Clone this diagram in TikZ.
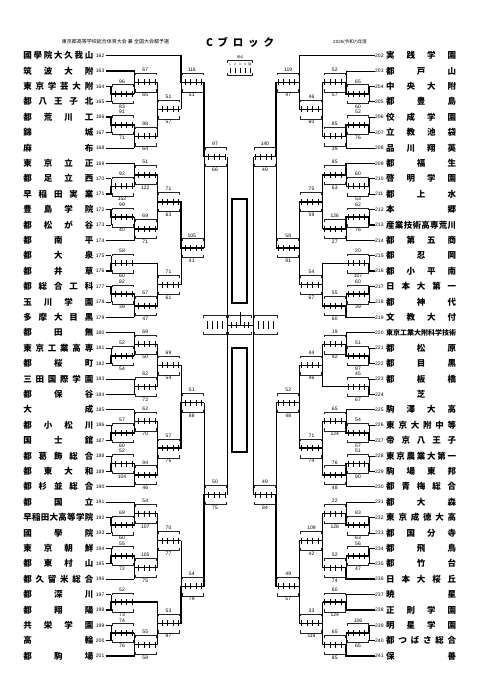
\documentclass[tikz,border=0pt]{standalone}
\usepackage{fontspec}
\setmainfont{Liberation Sans}
\newfontfamily\jp{Noto Sans CJK JP}
\newcommand{\spreadbox}[2]{\makebox[#1][s]{\spaceskip 0pt plus 1fil\relax #2}}

\begin{document}
\begin{tikzpicture}[
    x=1pt, y=-1pt,
    line/.style={draw=black, line width=0.5pt},
    winline/.style={draw=black, line width=1.5pt},
    bracketline/.style={draw=black!85, line width=0.4pt},
    tick/.style={draw=black, line width=0.9pt},
    frame/.style={draw=black, line width=1.2pt},
    teamname/.style={inner sep=0pt, font={\jp\bfseries\fontsize{8.5}{9}\selectfont}},
    teamno/.style={inner sep=0pt, font={\fontsize{5}{6}\selectfont}},
    score/.style={inner sep=0pt, font={\fontsize{5}{6}\selectfont}},
    head/.style={inner sep=0pt, font={\jp\fontsize{5}{6}\selectfont}},
    tiny/.style={inner sep=0pt, font={\jp\fontsize{3.2}{4}\selectfont}}
]

    % Page
    \fill[white] (0,0) rectangle (481,680);
    \useasboundingbox (0,0) rectangle (481,680);

    % Header
    \node[head] (meet) at (115.5,42) {東京都高等学校総合体育大会 兼 全国大会都予選};
    \node[inner sep=0pt, font={\jp\bfseries\fontsize{10.5}{11}\selectfont}] (block) at (240,42) {\spreadbox{68pt}{C ブ ロ ッ ク}};
    \node[head, font={\fontsize{4.5}{5}\selectfont}] (year) at (350,42) {2025({\jp 令和}7){\jp 年度}};

    % Legend
    \node[tiny] (lgtitle) at (240,57.5) {得点};
    \draw[bracketline] (227.5,63) -- (227.5,60.5) -- (252.5,60.5) -- (252.5,63);
    \foreach \t [count=\j] in {1,2,3,4,延}
        \node[tiny] (lg\j) at (225+5*\j,64.5) {\t};
    \foreach \j in {1,...,5}
        \draw[line] (225+5*\j,67.5) -- (225+5*\j,73);
    \draw[bracketline] (227.5,73) -- (227.5,75.5) -- (252.5,75.5) -- (252.5,73);

    % Teams, left
    \foreach \n/\nm [count=\k from 0] in {
        162/國 學 院 大 久 我 山,
        163/筑 波 大 附,
        164/東 京 学 芸 大 附,
        165/都 八 王 子 北,
        166/都 荒 川 工,
        167/錦 城,
        168/麻 布,
        169/東 京 立 正,
        170/都 足 立 西,
        171/早 稲 田 実 業,
        172/豊 島 学 院,
        173/都 松 が 谷,
        174/都 南 平,
        175/都 大 泉,
        176/都 井 草,
        177/都 総 合 工 科,
        178/玉 川 学 園,
        179/多 摩 大 目 黒,
        180/都 田 無,
        181/東 京 工 業 高 専,
        182/都 桜 町,
        183/三 田 国 際 学 園,
        184/都 保 谷,
        185/大 成,
        186/都 小 松 川,
        187/国 士 舘,
        188/都 葛 飾 総 合,
        189/都 東 大 和,
        190/都 杉 並 総 合,
        191/都 国 立,
        192/早 稲 田 大 高 等 学 院,
        193/國 學 院,
        194/東 京 朝 鮮,
        195/都 東 村 山,
        196/都 久 留 米 総 合,
        197/都 深 川,
        198/都 翔 陽,
        199/共 栄 学 園,
        200/高 輪,
        201/都 駒 場}{
        \pgfmathsetmacro\yy{55.5+15.4*\k}
        \node[teamno, anchor=east] (no\n) at (104.5,\yy) {\n};
        \node[teamname, anchor=east] (team\n) at (93.5,\yy) {\spreadbox{70pt}{\nm}};
    }

    % Teams, right
    \foreach \n/\nm [count=\k from 0] in {
        202/実 践 学 園,
        203/都 戸 山,
        204/中 央 大 附,
        205/都 豊 島,
        206/佼 成 学 園,
        207/立 教 池 袋,
        208/品 川 翔 英,
        209/都 福 生,
        210/啓 明 学 園,
        211/都 上 水,
        212/本 郷,
        213/産 業 技 術 高 専 荒 川,
        214/都 第 五 商,
        215/都 忍 岡,
        216/都 小 平 南,
        217/日 本 大 第 一,
        218/都 神 代,
        219/文 教 大 付,
        220/{\fontsize{7}{7}\selectfont 東 京 工 業 大 附 科 学 技 術},
        221/都 松 原,
        222/都 目 黒,
        223/都 板 橋,
        224/\hfill 芝\hfill,
        225/駒 澤 大 高,
        226/東 京 大 附 中 等,
        227/帝 京 八 王 子,
        228/東 京 農 業 大 第 一,
        229/駒 場 東 邦,
        230/都 青 梅 総 合,
        231/都 大 森,
        232/東 京 成 徳 大 高,
        233/都 国 分 寺,
        234/都 飛 鳥,
        235/都 竹 台,
        236/日 本 大 桜 丘,
        237/暁 星,
        238/正 則 学 園,
        239/明 星 学 園,
        240/都 つ ば さ 総 合,
        241/保 善}{
        \pgfmathsetmacro\yy{55.5+15.4*\k}
        \node[teamno, anchor=west] (no\n) at (375,\yy) {\n};
        \node[teamname, anchor=west] (team\n) at (386,\yy) {\spreadbox{70pt}{\nm}};
    }

    % Games: side / round / from a / y a / from b / y b / y box / score a / score b / winner
    \foreach \s/\c/\fa/\ya/\fb/\yb/\ym/\ta/\tb/\w [count=\i] in {
        1/1/0/86.3/0/101.7/94.0/96/83/1,
        1/1/0/117.1/0/132.5/124.8/91/71/1,
        1/2/0/70.9/1/94.0/82.45/67/65/1,
        1/2/1/124.8/0/147.9/136.35/98/64/1,
        1/3/2/82.45/2/136.35/109.4/51/57/2,
        1/4/0/55.5/3/109.4/82.45/116/51/1,
        1/1/0/178.7/0/194.1/186.4/92/152/2,
        1/2/0/163.3/1/186.4/174.85/51/122/2,
        1/1/0/209.5/0/224.9/217.2/99/40/1,
        1/2/1/217.2/0/240.3/228.75/69/71/2,
        1/3/2/174.85/2/228.75/201.8/71/63/1,
        1/1/0/255.7/0/271.1/263.4/58/60/2,
        1/1/0/286.5/0/301.9/294.2/82/39/1,
        1/2/1/294.2/0/317.3/305.75/67/47/1,
        1/3/1/263.4/2/305.75/284.6/71/61/1,
        1/4/3/201.8/3/284.6/248/105/41/1,
        1/5/4/82.45/4/248/156.5/97/66/1,
        1/1/0/348.1/0/363.5/355.8/52/54/2,
        1/2/0/332.7/1/355.8/344.25/69/50/1,
        1/2/0/378.9/0/394.3/386.6/62/72/2,
        1/3/2/344.25/2/386.6/365.4/69/54/1,
        1/1/0/425.1/0/440.5/432.8/57/60/2,
        1/2/0/409.7/1/432.8/421.25/62/70/2,
        1/1/0/455.9/0/471.3/463.6/52/104/2,
        1/2/1/463.6/0/486.7/475.15/94/46/1,
        1/3/2/421.25/2/475.15/448.2/57/75/2,
        1/4/3/365.4/3/448.2/402.5/51/88/2,
        1/1/0/517.5/0/532.9/525.2/69/60/1,
        1/2/0/502.1/1/525.2/513.65/54/107/2,
        1/1/0/548.3/0/563.7/556.0/55/72/2,
        1/2/1/556.0/0/579.1/567.55/105/75/1,
        1/3/2/513.65/2/567.55/540.6/70/77/2,
        1/1/0/594.5/0/609.9/602.2/52/73/2,
        1/1/0/625.3/0/640.7/633.0/74/76/2,
        1/2/1/633.0/0/656.1/644.55/55/58/2,
        1/3/1/602.2/2/644.55/623.4/53/97/2,
        1/4/3/540.6/3/623.4/586.3/54/79/2,
        1/5/4/402.5/4/586.3/494.7/50/75/2,
        -1/1/0/86.3/0/101.7/94.0/65/60/1,
        -1/2/0/70.9/1/94.0/82.45/52/57/2,
        -1/1/0/117.1/0/132.5/124.8/52/76/2,
        -1/2/1/124.8/0/147.9/136.35/85/39/1,
        -1/3/2/82.45/2/136.35/109.4/46/60/2,
        -1/4/0/55.5/3/109.4/82.45/119/47/1,
        -1/1/0/178.7/0/194.1/186.4/60/53/1,
        -1/2/0/163.3/1/186.4/174.85/85/63/1,
        -1/1/0/209.5/0/224.9/217.2/62/76/2,
        -1/2/1/217.2/0/240.3/228.75/126/27/1,
        -1/3/2/174.85/2/228.75/201.8/75/59/1,
        -1/1/0/255.7/0/271.1/263.4/20/107/2,
        -1/1/0/286.5/0/301.9/294.2/60/39/1,
        -1/2/1/294.2/0/317.3/305.75/55/60/2,
        -1/3/1/263.4/2/305.75/284.6/54/67/2,
        -1/4/3/201.8/3/284.6/248/58/91/2,
        -1/5/4/82.45/4/248/156.5/140/49/1,
        -1/1/0/348.1/0/363.5/355.8/51/97/2,
        -1/2/0/332.7/1/355.8/344.25/19/92/2,
        -1/1/0/378.9/0/394.3/386.6/45/67/2,
        -1/3/2/344.25/1/386.6/365.4/44/46/2,
        -1/1/0/425.1/0/440.5/432.8/54/57/2,
        -1/2/0/409.7/1/432.8/421.25/65/124/2,
        -1/1/0/455.9/0/471.3/463.6/51/90/2,
        -1/2/1/463.6/0/486.7/475.15/76/48/1,
        -1/3/2/421.25/2/475.15/448.2/71/74/2,
        -1/4/3/365.4/3/448.2/402.5/52/48/1,
        -1/1/0/517.5/0/532.9/525.2/83/63/1,
        -1/2/0/502.1/1/525.2/513.65/22/126/2,
        -1/1/0/548.3/0/563.7/556.0/56/47/1,
        -1/2/1/556.0/0/579.1/567.55/52/74/2,
        -1/3/2/513.65/2/567.55/540.6/109/42/1,
        -1/2/0/594.5/0/609.9/602.2/60/124/2,
        -1/1/0/625.3/0/640.7/633.0/106/65/1,
        -1/2/1/633.0/0/656.1/644.55/65/85/2,
        -1/3/2/602.2/2/644.55/623.4/33/119/2,
        -1/4/3/540.6/3/623.4/586.3/49/57/2,
        -1/5/4/402.5/4/586.3/494.7/49/84/2}{
        \pgfmathsetmacro\xx{240+(\s)*(-129+23.25*(\c-1))}
        \pgfmathsetmacro\xo{\xx+(\s)}
        \pgfmathsetmacro\xe{\xx+22*(\s)}
        \pgfmathsetmacro\xa{ifthenelse(\fa==0,240-134.5*(\s),240+(\s)*(-107+23.25*(\fa-1)))}
        \pgfmathsetmacro\xb{ifthenelse(\fb==0,240-134.5*(\s),240+(\s)*(-107+23.25*(\fb-1)))}
        \ifnum\w=1
            \edef\xw{\xa}\edef\yw{\ya}\edef\xl{\xb}\edef\yl{\yb}\edef\fl{\fb}
        \else
            \edef\xw{\xb}\edef\yw{\yb}\edef\xl{\xa}\edef\yl{\ya}\edef\fl{\fa}
        \fi
        % loser side
        \ifnum\fl=0
            \draw[line] (\xl,\yl) -- (\xx,\yl);
        \else
            \draw[winline] (\xl,\yl) -- (\xx,\yl);
        \fi
        \draw[line] (\xx,\yl) -- (\xx,\ym);
        % winner side
        \draw[winline] (\xw,\yw) -- (\xx,\yw) -- (\xx,\ym) -- (\xe,\ym);
        % score box
        \draw[bracketline] (\xo,\ym-7) -- (\xo,\ym-9.5) -- (\xe,\ym-9.5) -- (\xe,\ym-7);
        \draw[bracketline] (\xo,\ym+7) -- (\xo,\ym+9.5) -- (\xe,\ym+9.5) -- (\xe,\ym+7);
        \foreach \t in {4.5,10,15.5,21}
            \draw[tick] ({\xx+(\s)*\t},\ym-3) -- ({\xx+(\s)*\t},\ym+3);
        \node[score] (up\i) at ({\xx+11*(\s)},\ym-12.6) {\ta};
        \node[score] (dn\i) at ({\xx+11*(\s)},\ym+12.8) {\tb};
    }

    % Semifinals and final
    \draw[line] (227.25,156.5) -- (227.25,494.7);
    \draw[line] (252.75,156.5) -- (252.75,494.7);
    \foreach \s in {1,-1}{
        \draw[bracketline] ({240-37*(\s)},318) -- ({240-37*(\s)},315.5) -- ({240-14*(\s)},315.5) -- ({240-14*(\s)},318);
        \draw[bracketline] ({240-37*(\s)},331.5) -- ({240-37*(\s)},334) -- ({240-14*(\s)},334) -- ({240-14*(\s)},331.5);
        \foreach \t in {33,28,23,18}
            \draw[line] ({240-(\s)*\t},321) -- ({240-(\s)*\t},329);
    }
    \draw[bracketline] (228.5,318) -- (228.5,315.5) -- (251.5,315.5) -- (251.5,318);
    \draw[bracketline] (228.5,331.5) -- (228.5,334) -- (251.5,334) -- (251.5,331.5);
    \draw[line, line width=1pt] (227.25,325) -- (252.75,325);
    \foreach \t in {231.5,236,244,248.5}
        \draw[tick] (\t,322) -- (\t,328);
    \draw[line] (240,312) -- (240,325);

    % Winner boards
    \draw[frame] (232,199) rectangle (247,303);
    \draw[frame] (232,348) rectangle (247,452);

\end{tikzpicture}
\end{document}
